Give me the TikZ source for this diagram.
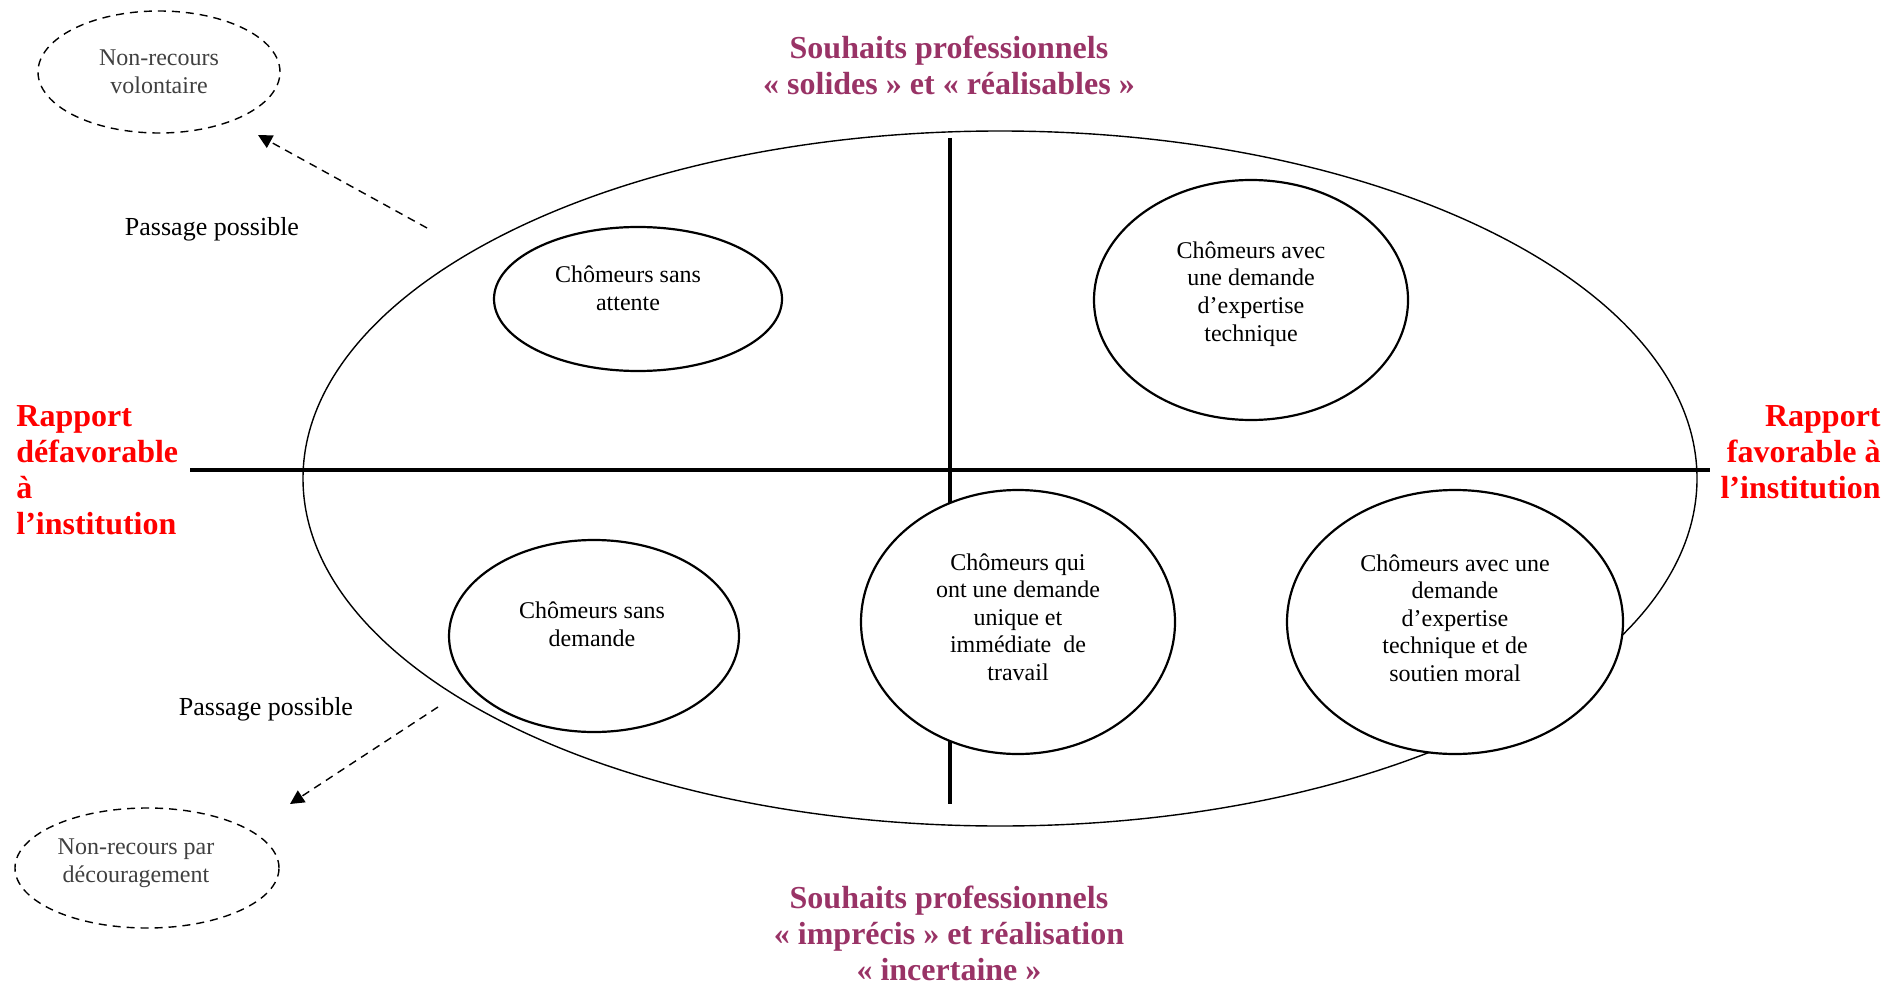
\documentclass[tikz,border=0pt]{standalone}
\usepackage{fontspec}
\setmainfont{Liberation Serif}
\usetikzlibrary{arrows.meta,shapes,positioning}
\definecolor{souh}{HTML}{993366}
\definecolor{nrgray}{HTML}{404040}
\tikzset{
  grp/.style   = { draw, ellipse, line width=1.1pt, fill=white, inner sep=0pt },
  txt/.style   = { align=center, inner sep=0pt, font=\fontsize{12}{13.8}\selectfont },
  nrc/.style   = { draw, ellipse, dashed, dash pattern=on 4pt off 3pt, line width=0.7pt, inner sep=0pt },
  nrt/.style   = { txt, text=nrgray },
  axe/.style   = { line width=2pt },
  pas/.style   = { dashed, dash pattern=on 4pt off 3pt, line width=0.7pt, -{Triangle[length=7pt,width=7pt]} },
  titre/.style = { align=center, inner sep=0pt, text=souh, font=\fontsize{16}{18}\selectfont\bfseries },
  rap/.style   = { inner sep=0pt, text=red, font=\fontsize{16}{18}\selectfont\bfseries }
}
\begin{document}
\begin{tikzpicture}[x=0.5pt,y=-0.5pt]
    \useasboundingbox (0,0) rectangle (1888,984);
    % grande ellipse et axes
    \node[draw, ellipse, line width=0.7pt, minimum width=697pt, minimum height=347.5pt] (big) at (1000,478.5) {};
    \coordinate (hl) at (190,470);
    \coordinate (hr) at (1710,470);
    \coordinate (vt) at (950,138);
    \coordinate (vb) at (950,804);
    \draw[axe] (hl) -- (hr);
    \draw[axe] (vt) -- (vb);

    % les cinq groupes de chomeurs
    \node[grp, minimum width=144pt, minimum height=72pt,
      label={[txt, xshift=-5pt, yshift=5.5pt]center:Chômeurs sans\\attente}] (att) at (638,299) {};
    \node[grp, minimum width=157pt, minimum height=120pt,
      label={[txt, yshift=3pt]center:Chômeurs avec\\une demande\\d’expertise\\technique}] (tech) at (1251,300) {};
    \node[grp, minimum width=145pt, minimum height=96pt,
      label={[txt, xshift=-1pt, yshift=6pt]center:Chômeurs sans\\demande}] (dem) at (594,636) {};
    \node[grp, minimum width=157pt, minimum height=132pt,
      label={[txt, yshift=2.5pt]center:Chômeurs qui\\ont une demande\\unique et\\immédiate\ \ de\\travail}] (uniq) at (1018,622) {};
    \node[grp, minimum width=168pt, minimum height=132pt,
      label={[txt, yshift=2pt]center:Chômeurs avec une\\demande\\d’expertise\\technique et de\\soutien moral}] (mor) at (1455,622) {};

    \node[titre] (sh) at (949,65) {Souhaits professionnels\\« solides » et « réalisables »};
    \node[titre] (sb) at (949,933) {Souhaits professionnels\\« imprécis » et réalisation\\« incertaine »};
    \node[rap, anchor=west, align=left] (rd) at (16,470) {Rapport\\défavorable\\à\\l’institution};
    \node[rap, anchor=east, align=right] (rf) at (1881,452) {Rapport\\favorable à\\l’institution};

    % non-recours
    \node[nrc, minimum width=121pt, minimum height=61pt,
      label={[nrt]center:Non-recours\\volontaire}] (vol) at (159,72) {};
    \node[nrc, minimum width=132pt, minimum height=60pt,
      label={[nrt, xshift=-5.5pt, yshift=2.5pt]center:Non-recours par\\découragement}] (dec) at (147,868) {};
    \node[font=\fontsize{13}{15}\selectfont] (p1) at (212,229) {Passage possible};
    \node[font=\fontsize{13}{15}\selectfont] (p2) at (266,709) {Passage possible};

    \coordinate (a1) at (427,228);
    \coordinate (b1) at (258,135);
    \coordinate (a2) at (438,707);
    \coordinate (b2) at (290,804);
    \draw[pas] (a1) -- (b1);
    \draw[pas] (a2) -- (b2);
  \end{tikzpicture}
\end{document}
